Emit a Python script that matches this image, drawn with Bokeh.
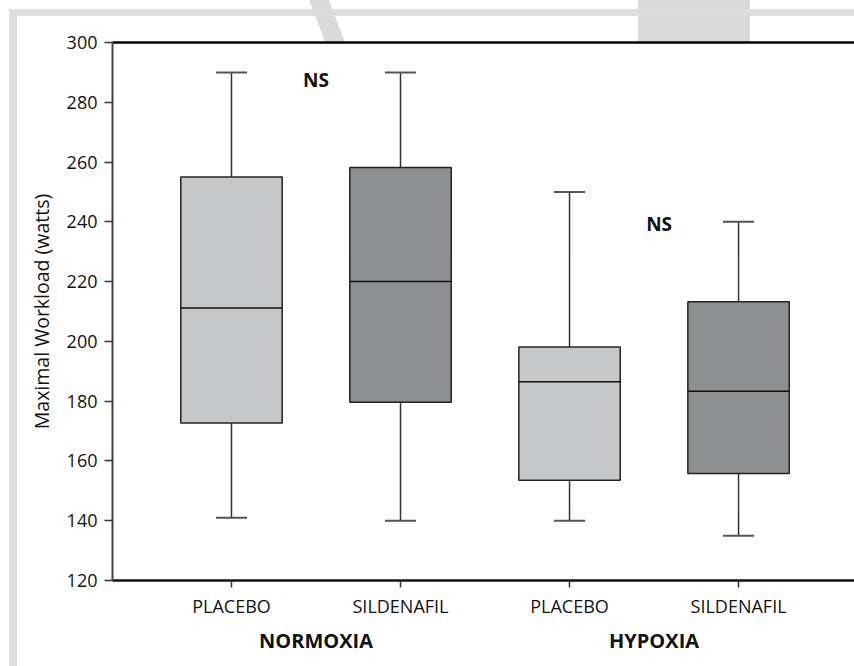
from bokeh.plotting import figure
from bokeh.models import Range1d, LinearAxis, FixedTicker, ColumnDataSource
from bokeh.core.properties import value
from bokeh.embed import file_html
from bokeh.resources import INLINE

# ---- data ----
treatments = ["PLACEBO", "SILDENAFIL", "PLACEBO", "SILDENAFIL"]
conditions = ["NORMOXIA", "HYPOXIA"]
whisker_low = [141, 140, 140, 135]
q1 = [172.7, 179.6, 153.5, 155.8]
median = [211.2, 220.0, 186.5, 183.3]
q3 = [255.0, 258.2, 198.1, 213.3]
whisker_high = [290, 290, 250, 240]
box_colors = ["#c6c7c9", "#8e8f91", "#c6c7c9", "#8e8f91"]
ns_labels = ["NS", "NS"]
ns_x = [0.5, 2.53]
ns_y = [287.3, 239.3]
y_ticks = [120, 140, 160, 180, 200, 220, 240, 260, 280, 300]

FONT = "Open Sans"
BAND = "#dcdddf"
WM = "#d9d9da"
xs = list(range(len(treatments)))

p = figure(width=854, height=666, output_backend="svg", toolbar_location=None,
           x_range=Range1d(-0.704, 3.686), y_range=Range1d(120, 300),
           min_border_left=112, min_border_top=42, min_border_bottom=86,
           min_border_right=0)
p.background_fill_color = "white"
p.border_fill_alpha = 0
p.outline_line_color = None
p.xgrid.visible = False
p.ygrid.visible = False

# page frame bands and faint watermark behind the canvas
p.styles = {
    "background":
        f"linear-gradient({BAND},{BAND}) 9px 9px / 845px 7px no-repeat, "
        f"linear-gradient({BAND},{BAND}) 9px 9px / 8px 657px no-repeat, "
        f"linear-gradient(69deg, transparent 23.5px, {WM} 23.5px, {WM} 42px, transparent 42px) 300px 0px / 50px 42px no-repeat, "
        f"linear-gradient({WM},{WM}) 638px 0px / 112px 42px no-repeat, "
        "white"
}

src = ColumnDataSource(dict(x=xs, low=whisker_low, q1=q1, med=median, q3=q3,
                            high=whisker_high, color=box_colors,
                            cl=[x - 0.092 for x in xs], cr=[x + 0.092 for x in xs]))

# whiskers
p.segment(x0="x", y0="q3", x1="x", y1="high", source=src, line_color="#333333", line_width=1.5)
p.segment(x0="x", y0="low", x1="x", y1="q1", source=src, line_color="#333333", line_width=1.5)
p.segment(x0="cl", y0="high", x1="cr", y1="high", source=src, line_color="#555555", line_width=2)
p.segment(x0="cl", y0="low", x1="cr", y1="low", source=src, line_color="#555555", line_width=2)
# boxes
p.vbar(x="x", width=0.6, bottom="q1", top="q3", source=src, fill_color="color",
       line_color="#222222", line_width=1.5)
p.vbar(x="x", width=0.6, bottom="med", top="med", source=src, fill_color=None,
       line_color="#111111", line_width=1.5)

p.text(x=ns_x, y=ns_y, text=ns_labels, text_font=value(FONT), text_font_style="bold",
       text_font_size="19px", text_align="center", text_baseline="middle", text_color="#111111")

# y axis
ya = p.yaxis[0]
ya.ticker = FixedTicker(ticks=y_ticks)
ya.minor_tick_line_color = None
ya.major_tick_out = 8
ya.major_tick_in = 0
ya.major_tick_line_width = 1.5
ya.major_tick_line_color = "#333333"
ya.axis_line_width = 2
ya.axis_line_color = "#444444"
ya.major_label_text_font = FONT
ya.major_label_text_font_size = "18px"
ya.major_label_text_color = "#111111"
ya.major_label_standoff = 7
ya.axis_label = "Maximal Workload (watts)"
ya.axis_label_text_font = FONT
ya.axis_label_text_font_size = "19.5px"
ya.axis_label_text_font_style = "normal"
ya.axis_label_text_color = "#111111"
ya.axis_label_standoff = 9

# x axis (treatments)
xa = p.xaxis[0]
xa.ticker = FixedTicker(ticks=xs)
xa.major_label_overrides = {i: t for i, t in enumerate(treatments)}
xa.minor_tick_line_color = None
xa.major_tick_out = 7
xa.major_tick_in = 0
xa.major_tick_line_width = 1.5
xa.major_tick_line_color = "#333333"
xa.axis_line_width = 2.5
xa.axis_line_color = "#111111"
xa.major_label_text_font = FONT
xa.major_label_text_font_size = "18px"
xa.major_label_text_color = "#111111"
xa.major_label_standoff = 6

# group axis
ga = LinearAxis(ticker=FixedTicker(ticks=[0.5, 2.5]),
                major_label_overrides={0.5: conditions[0], 2.5: conditions[1]})
ga.axis_line_color = None
ga.major_tick_line_color = None
ga.minor_tick_line_color = None
ga.major_label_text_font = FONT
ga.major_label_text_font_style = "bold"
ga.major_label_text_font_size = "20px"
ga.major_label_text_color = "#111111"
ga.major_label_standoff = 0
p.add_layout(ga, "below")

# top line
ta = LinearAxis(ticker=FixedTicker(ticks=[]))
ta.axis_line_color = "#000000"
ta.axis_line_width = 2.5
ta.major_tick_line_color = None
ta.minor_tick_line_color = None
ta.major_label_text_font_size = "0px"
p.add_layout(ta, "above")

open("out.html", "w").write(file_html(p, INLINE))
